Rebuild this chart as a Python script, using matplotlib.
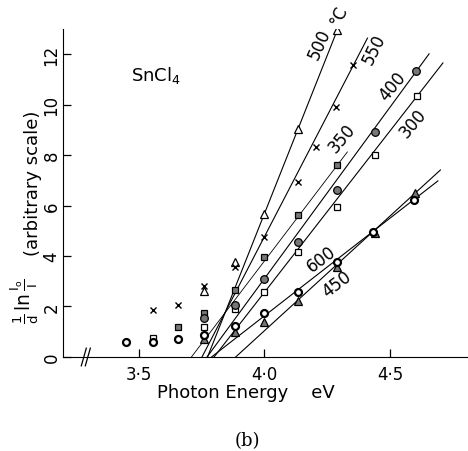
import matplotlib
matplotlib.use('Agg')
import matplotlib.pyplot as plt
import numpy as np

# photon energy (eV) columns
e300 = [3.556, 3.758, 3.885, 4.0, 4.135, 4.29, 4.44, 4.607]
a300 = [0.75, 1.2, 1.9, 2.56, 4.17, 5.95, 8.02, 10.32]

e350 = [3.655, 3.758, 3.885, 4.0, 4.135, 4.29]
a350 = [1.2, 1.75, 2.66, 3.97, 5.63, 7.62]

e400 = [3.758, 3.885, 4.0, 4.135, 4.29, 4.44, 4.603]
a400 = [1.55, 2.06, 3.1, 4.56, 6.63, 8.93, 11.31]

e450 = [3.758, 3.885, 4.0, 4.135, 4.29, 4.44, 4.6]
a450 = [0.7, 1.0, 1.4, 2.22, 3.57, 4.9, 6.5]

e500 = [3.758, 3.885, 4.0, 4.135, 4.29]
a500 = [2.6, 3.75, 5.67, 9.05, 12.94]

e550 = [3.556, 3.655, 3.758, 3.885, 4.0, 4.135, 4.206, 4.286, 4.353]
a550 = [1.87, 2.07, 2.8, 3.57, 4.76, 6.94, 8.33, 9.92, 11.55]

e600 = [3.45, 3.556, 3.655, 3.758, 3.885, 4.0, 4.135, 4.29, 4.433, 4.595]
a600 = [0.6, 0.6, 0.72, 0.87, 1.23, 1.76, 2.58, 3.77, 4.96, 6.23]

# fitted straight lines: x intercept, upper end, slope
fit_x0 = {'300': 3.80, '350': 3.71, '400': 3.772, '450': 3.886,
          '500': 3.774, '550': 3.752, '600': 3.79}
fit_x1 = {'300': 4.71, '350': 4.33, '400': 4.655, '450': 4.70,
          '500': 4.32, '550': 4.41, '600': 4.69}
fit_slope = {'300': 12.8, '350': 13.1, '400': 13.6, '450': 9.1,
             '500': 25.1, '550': 19.2, '600': 7.75}

grey = '#777777'


def main():
    plt.rcParams['font.family'] = 'DejaVu Sans'
    plt.rcParams['mathtext.fontset'] = 'dejavusans'

    fig = plt.figure(figsize=(4.68, 4.52), dpi=100)
    ax = fig.add_axes([0.135, 0.208, 0.863, 0.726])

    for k in fit_x0:
        xs = np.array([fit_x0[k], fit_x1[k]])
        ys = fit_slope[k] * (xs - fit_x0[k])
        lw = 0.6 if k == '350' else 0.8
        ax.plot(xs, ys, color='k', lw=lw)

    ms = 5
    ax.plot(e300, a300, ls='', marker='s', ms=ms, mfc='white', mec='k', mew=0.9)
    ax.plot(e350, a350, ls='', marker='s', ms=ms, mfc=grey, mec='k', mew=0.9)
    ax.plot(e400, a400, ls='', marker='o', ms=ms + 0.5, mfc=grey, mec='k', mew=0.9)
    ax.plot(e450, a450, ls='', marker='^', ms=ms + 1, mfc=grey, mec='k', mew=0.9)
    ax.plot(e500, a500, ls='', marker='^', ms=ms + 1, mfc='white', mec='k', mew=0.9)
    ax.plot(e550, a550, ls='', marker='x', ms=ms, mec='k', mew=1.0)
    ax.plot(e600, a600, ls='', marker='o', ms=ms, mfc='white', mec='k', mew=1.6)

    # curve labels
    lab = dict(fontsize=12, ha='center', va='center')
    ax.text(4.22, 12.4, '500', rotation=66, **lab)
    ax.text(4.295, 13.55, '°C', rotation=66, **lab)
    ax.text(4.435, 12.2, '550', rotation=64, **lab)
    ax.text(4.51, 10.75, '400', rotation=50, **lab)
    ax.text(4.31, 8.7, '350', rotation=50, **lab)
    ax.text(4.59, 9.3, '300', rotation=50, **lab)
    ax.text(4.225, 3.9, '600', rotation=37, **lab)
    ax.text(4.29, 2.9, '450', rotation=37, **lab)

    ax.text(3.567, 11.2, r'SnCl$_4$', fontsize=13, ha='center', va='center')

    ax.set_xlim(3.2, 4.806)
    ax.set_ylim(0, 13)
    ax.spines['top'].set_visible(False)
    ax.spines['right'].set_visible(False)

    ax.set_xticks([3.5, 4.0, 4.5])
    ax.set_xticklabels(['3·5', '4·0', '4·5'], fontsize=12)
    ax.set_yticks(range(0, 13, 2))
    ax.set_yticklabels([str(v) for v in range(0, 13, 2)], fontsize=12,
                       rotation=90, va='center')
    ax.tick_params(direction='in', length=6, width=0.9)
    ax.tick_params(axis='x', pad=6)
    ax.tick_params(axis='y', pad=2)

    # axis break mark
    for dx in (-0.008, 0.008):
        ax.plot([3.29 + dx - 0.01, 3.29 + dx + 0.01], [-0.35, 0.35],
                color='k', lw=0.9, clip_on=False)

    ax.set_xlabel('Photon Energy    eV', fontsize=13)
    ax.xaxis.set_label_coords(0.453, -0.08)

    # y label in two parts so the fraction can be larger
    fig.text(25 / 468, 1 - 301 / 452,
             r'$\frac{1}{\mathrm{d}}\,\mathrm{ln}\,\frac{\mathrm{I_o}}{\mathrm{I}}$',
             fontsize=13.5, rotation=90, ha='center', va='center')
    fig.text(33 / 468, 1 - 183 / 452, '(arbitrary scale)', fontsize=13,
             rotation=90, ha='center', va='center')

    fig.text(0.528, 0.025, '(b)', fontsize=13, family='DejaVu Serif',
             ha='center', va='center')

    fig.savefig('out.png', dpi=100)


if __name__ == "__main__":
    main()
